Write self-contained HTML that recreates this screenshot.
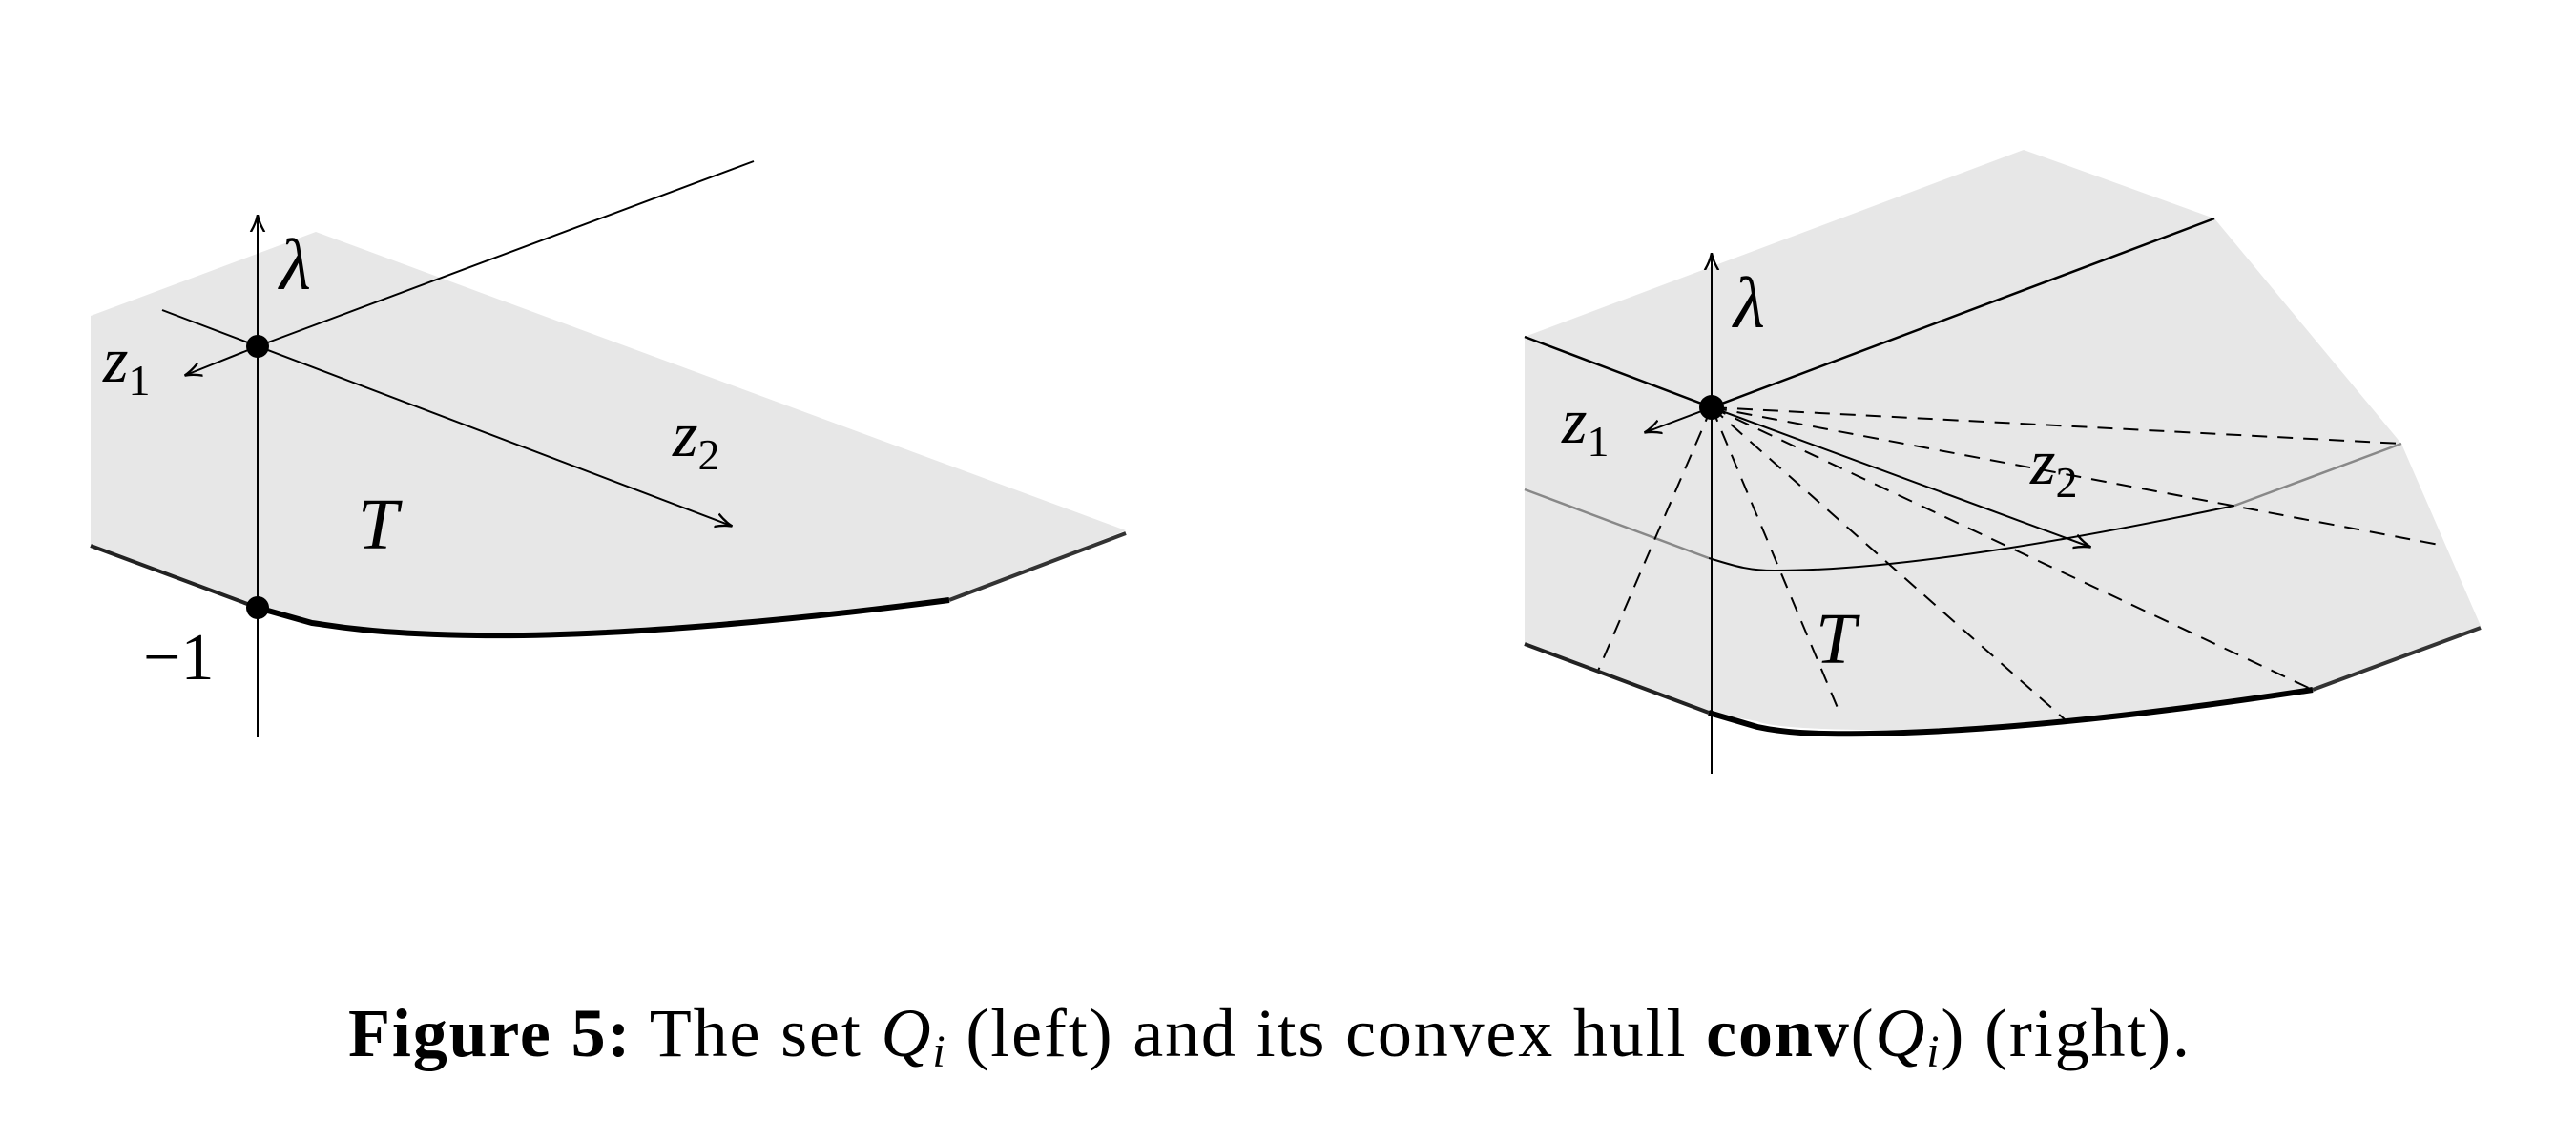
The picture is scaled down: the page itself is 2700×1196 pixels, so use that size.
<!DOCTYPE html>
<html><head><meta charset="utf-8"><style>
html,body{margin:0;padding:0;background:#fff;}
svg{display:block;}
text{font-family:"Liberation Serif",serif;}
</style></head><body>
<svg width="2700" height="1196" viewBox="0 0 2700 1196" xmlns="http://www.w3.org/2000/svg">
<defs>
<marker id="ar2" viewBox="0 0 10 10" refX="9" refY="5" markerWidth="18" markerHeight="18" markerUnits="userSpaceOnUse" orient="auto">
<path d="M0,1 Q5,4 10,5 Q5,6 0,9" fill="none" stroke="#000" stroke-width="1.3"/></marker>
</defs>
<!-- LEFT -->
<path d="M95,331 L331,243 L1180,556 L995,629 C800,655 600,672 470,664 C380,660 345,655 327,653 L270,637 L95,572 Z" fill="#e7e7e7"/>
<path d="M95,572 L270,637" stroke="#222" stroke-width="4" fill="none"/>
<path d="M270,637 L327,653 C345,655 380,664 500,666 C650,668 850,648 995,629" stroke="#000" stroke-width="6" fill="none"/>
<path d="M995,629 L1180,559" stroke="#333" stroke-width="4" fill="none"/>
<line x1="270" y1="773" x2="270" y2="227" stroke="#000" stroke-width="2" marker-end="url(#ar2)"/>
<line x1="270" y1="363" x2="790" y2="169" stroke="#000" stroke-width="2"/>
<line x1="170" y1="325" x2="766" y2="551" stroke="#000" stroke-width="2" marker-end="url(#ar2)"/>
<line x1="270" y1="363" x2="195" y2="393" stroke="#000" stroke-width="2" marker-end="url(#ar2)"/>
<circle cx="270" cy="363" r="12" fill="#000"/>
<circle cx="270" cy="637" r="12" fill="#000"/>
<text x="293" y="303" font-size="76" font-style="italic">λ</text>
<text x="108" y="400" font-size="68" font-style="italic">z<tspan font-size="46" font-style="normal" dy="14">1</tspan></text>
<text x="705" y="478" font-size="68" font-style="italic">z<tspan font-size="46" font-style="normal" dy="14">2</tspan></text>
<text x="375" y="575" font-size="76" font-style="italic">T</text>
<text x="150" y="712" font-size="70">−1</text>
<!-- RIGHT -->
<path d="M1598,353 L2121,157 L2321,229 L2517,465 L2600,656 L2424,723 C2250,748 2080,768 1950,765 C1880,764 1850,760 1842,756 L1791,747 L1598,675 Z" fill="#e7e7e7"/>
<path d="M1598,513 L1791,585" stroke="#888" stroke-width="2.5" fill="none"/>
<path d="M1791,585 C1815,592 1830,598 1860,598 C2000,598 2200,560 2342,530" stroke="#000" stroke-width="2" fill="none"/>
<path d="M2342,530 L2517,465" stroke="#888" stroke-width="2.5" fill="none"/>
<g stroke="#000" stroke-width="2" stroke-dasharray="16,11" fill="none">
<line x1="1794" y1="427" x2="2517" y2="465"/>
<line x1="1794" y1="427" x2="2562" y2="572"/>
<line x1="1794" y1="427" x2="2424" y2="723"/>
<line x1="1794" y1="427" x2="2164" y2="754"/>
<line x1="1794" y1="427" x2="1929" y2="749"/>
<line x1="1794" y1="427" x2="1675" y2="703"/>
</g>
<path d="M1598,675 L1791,747" stroke="#222" stroke-width="4" fill="none"/>
<path d="M1791,747 L1842,762 C1870,768 1900,770 1960,769 C2120,766 2300,742 2424,723" stroke="#000" stroke-width="6" fill="none"/>
<path d="M2424,723 L2600,658" stroke="#333" stroke-width="4" fill="none"/>
<line x1="1794" y1="811" x2="1794" y2="267" stroke="#000" stroke-width="2" marker-end="url(#ar2)"/>
<polyline points="1598,353 1794,427 2321,229" stroke="#000" stroke-width="2.5" fill="none"/>
<line x1="1794" y1="427" x2="2190" y2="573" stroke="#000" stroke-width="2" marker-end="url(#ar2)"/>
<line x1="1794" y1="427" x2="1725" y2="453" stroke="#000" stroke-width="2" marker-end="url(#ar2)"/>
<circle cx="1794" cy="427" r="13" fill="#000"/>
<text x="1817" y="343" font-size="76" font-style="italic">λ</text>
<text x="1637" y="464" font-size="68" font-style="italic">z<tspan font-size="46" font-style="normal" dy="14">1</tspan></text>
<text x="2128" y="507" font-size="68" font-style="italic">z<tspan font-size="46" font-style="normal" dy="14">2</tspan></text>
<text x="1903" y="695" font-size="76" font-style="italic">T</text>
<!-- caption -->
<text x="1330" y="1107" font-size="72" text-anchor="middle" textLength="1930" lengthAdjust="spacing"><tspan font-weight="bold">Figure 5:</tspan> The set <tspan font-style="italic">Q</tspan><tspan font-style="italic" font-size="48" dy="11">i</tspan><tspan dy="-11"> (left) and its convex hull </tspan><tspan font-weight="bold">conv</tspan>(<tspan font-style="italic">Q</tspan><tspan font-style="italic" font-size="48" dy="11">i</tspan><tspan dy="-11">) (right).</tspan></text>
</svg>
</body></html>
